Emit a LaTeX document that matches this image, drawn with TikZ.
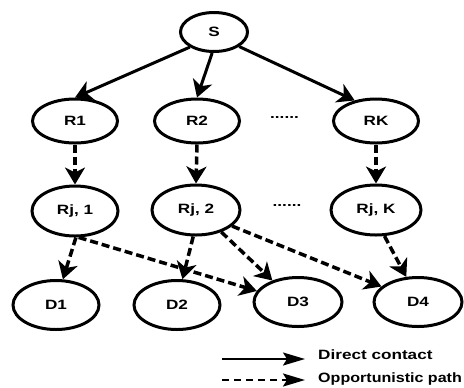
\documentclass[tikz,border=0pt]{standalone}
\usepackage{fontspec}
\setmainfont{Liberation Sans}[FakeStretch=1.27]
\newfontfamily\narrowfont{Liberation Sans}[FakeStretch=1.19]
\usetikzlibrary{shapes.geometric,arrows.meta}
\begin{document}
\begin{tikzpicture}[x=1bp,y=-1bp,
  every node/.style={font=\fontsize{13.5bp}{16bp}\selectfont\bfseries},
  elli/.style={draw,ellipse,line width=3bp,inner sep=0pt,minimum width=85bp,minimum height=44bp},
  rjelli/.style={elli,minimum height=50bp,minimum width=86bp},
  delli/.style={elli,minimum height=49bp,minimum width=86bp},
  direct/.style={line width=3bp,-{Stealth[length=17bp,width=20bp,inset=5bp]}},
  oppo/.style={line width=3.5bp,dash pattern=on 8bp off 4bp,-{Stealth[length=17bp,width=20bp,inset=5bp]}},
  legdirect/.style={line width=2bp,-{Stealth[length=22bp,width=13bp,inset=4bp]}},
  legoppo/.style={line width=2.2bp,dash pattern=on 7bp off 5bp,-{Stealth[length=22bp,width=13bp,inset=4bp]}},
  dots/.style={inner sep=0pt}
]
\clip (0,0) rectangle (464,387);
\node[elli,minimum width=67bp,minimum height=39bp] (S) at (214,32) {S};
\node[elli] (R1) at (75,121) {R1};
\node[elli] (R2) at (197,121) {R2};
\node[elli] (RK) at (376,121) {RK};
\node[dots] (dA) at (284.5,117) {......};
\node[rjelli] (Rj1) at (75,211) {Rj, 1};
\node[rjelli,minimum width=88bp] (Rj2) at (196,210) {Rj, 2};
\node[rjelli,minimum width=90bp] (RjK) at (376,210) {Rj, K};
\node[dots] (dB) at (287,205) {......};
\node[delli] (D1) at (56,305) {D1};
\node[delli] (D2) at (177,305) {D2};
\node[delli,minimum width=88bp] (D3) at (298,302) {D3};
\node[delli,minimum width=88bp] (D4) at (418,302) {D4};
% direct contacts
\draw[direct] (S.212) -- (R1.north);
\draw[direct] (S.265) -- (R2.north);
\draw[direct] (S.-30) -- (RK.136);
% opportunistic paths
\draw[oppo] (R1.south) -- (Rj1.north);
\draw[oppo] (R2.south) -- (Rj2.north);
\draw[oppo] (RK.south) -- (RjK.north);
\draw[oppo] (Rj1.-88) -- (D1.75);
\draw[oppo] (Rj1.-82) -- (D3.165);
\draw[oppo] (Rj2.-96) -- (D2.78);
\draw[oppo] (Rj2.-41) -- (D3.140);
\draw[oppo] (Rj2.-24) -- (D4.157);
\draw[oppo] (RjK.-72) -- (D4.115);
% legend
\coordinate (La) at (222,359);
\coordinate (Lb) at (305,359);
\coordinate (Lc) at (222,380);
\coordinate (Ld) at (305,380);
\draw[legdirect] (La) -- (Lb);
\draw[legoppo] (Lc) -- (Ld);
\node[anchor=base west,inner sep=0pt] (T1) at (318,359) {Direct contact};
\node[anchor=base west,inner sep=0pt,font=\fontsize{13.5bp}{16bp}\narrowfont\bfseries] (T2) at (318,382) {Opportunistic path};
\end{tikzpicture}
\end{document}
